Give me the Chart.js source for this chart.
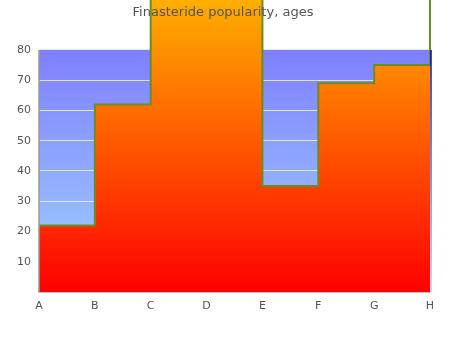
<!DOCTYPE html>
<html>
<head>
<meta charset="utf-8">
<script src="https://cdn.jsdelivr.net/npm/chart.js@4/dist/chart.umd.min.js"></script>
<style>
html,body{margin:0;padding:0;background:#fff;}
#wrap{position:relative;width:450px;height:350px;}
#title{position:absolute;left:0;top:3px;width:446px;text-align:center;
  font-family:'DejaVu Sans',sans-serif;font-size:13px;color:#555;z-index:2;line-height:18px;}
canvas{position:absolute;left:0;top:0;}
</style>
</head>
<body>
<div id="wrap"><canvas id="c" width="450" height="350"></canvas><div id="title"></div></div>
<script>
const categories = ['A', 'B', 'C', 'D', 'E', 'F', 'G', 'H'];
const popularity = [22, 62, 110, 110, 35, 69, 75, 110];
const yTicks = [10, 20, 30, 40, 50, 60, 70, 80];
const chartTitle = 'Finasteride popularity, ages';
const yTop = 80;

document.getElementById('title').textContent = chartTitle;

const plotBg = {
  id: 'plotBg',
  beforeDraw(chart) {
    const {ctx, chartArea: a} = chart;
    const top = chart.scales.y.getPixelForValue(yTop);
    const g = ctx.createLinearGradient(0, top, 0, a.bottom);
    g.addColorStop(0, '#7f7fff');
    g.addColorStop(1, '#a0d4ff');
    ctx.save();
    ctx.fillStyle = g;
    ctx.fillRect(a.left, top, a.right - a.left, a.bottom - top);
    ctx.restore();
  },
  afterDatasetsDraw(chart) {
    const {ctx, chartArea: a} = chart;
    const top = chart.scales.y.getPixelForValue(yTop);
    const g = ctx.createLinearGradient(0, top, 0, a.bottom);
    g.addColorStop(0, '#0000b0');
    g.addColorStop(1, '#a0d8ff');
    ctx.save();
    ctx.strokeStyle = g;
    ctx.lineWidth = 1.5;
    ctx.beginPath();
    ctx.moveTo(a.right + 1, top);
    ctx.lineTo(a.right + 1, a.bottom);
    ctx.stroke();
    ctx.strokeStyle = '#999';
    ctx.lineWidth = 1.5;
    ctx.beginPath();
    ctx.moveTo(a.left, top);
    ctx.lineTo(a.left, a.bottom);
    ctx.stroke();
    ctx.restore();
  }
};

new Chart(document.getElementById('c'), {
  type: 'line',
  data: {
    labels: categories,
    datasets: [{
      data: popularity,
      stepped: true,
      fill: 'origin',
      clip: false,
      borderColor: '#6b8e23',
      borderWidth: 2,
      pointRadius: 0,
      backgroundColor(ctx) {
        const ch = ctx.chart;
        if (!ch.chartArea) return '#ff4000';
        const g = ch.ctx.createLinearGradient(0, ch.chartArea.bottom, 0, 0);
        g.addColorStop(0, '#ff0000');
        g.addColorStop(1, '#ffae00');
        return g;
      }
    }]
  },
  options: {
    responsive: false,
    animation: false,
    layout: {padding: {top: 0, right: 20, bottom: 0, left: 0}},
    plugins: {
      legend: {display: false},
      tooltip: {enabled: false},
      title: {display: false}
    },
    scales: {
      x: {
        offset: false,
        grid: {display: false, drawTicks: false},
        border: {display: true, color: '#999', width: 1.5},
        ticks: {color: '#555', font: {family: 'DejaVu Sans', size: 11}, padding: 8, maxRotation: 0},
        afterFit(s) { s.height = 58; }
      },
      y: {
        min: 0,
        max: 96.5,
        afterBuildTicks(s) { s.ticks = [0].concat(yTicks).map(v => ({value: v})); },
        grid: {color: '#e4e4e4', drawTicks: false, lineWidth: 1},
        border: {display: false},
        ticks: {
          color: '#555',
          font: {family: 'DejaVu Sans', size: 11},
          padding: 8,
          callback: v => v === 0 ? '' : String(v)
        },
        afterFit(s) { s.width = 39; s.paddingTop = 0; s.paddingBottom = 0; }
      }
    }
  },
  plugins: [plotBg]
});
</script>
</body>
</html>
